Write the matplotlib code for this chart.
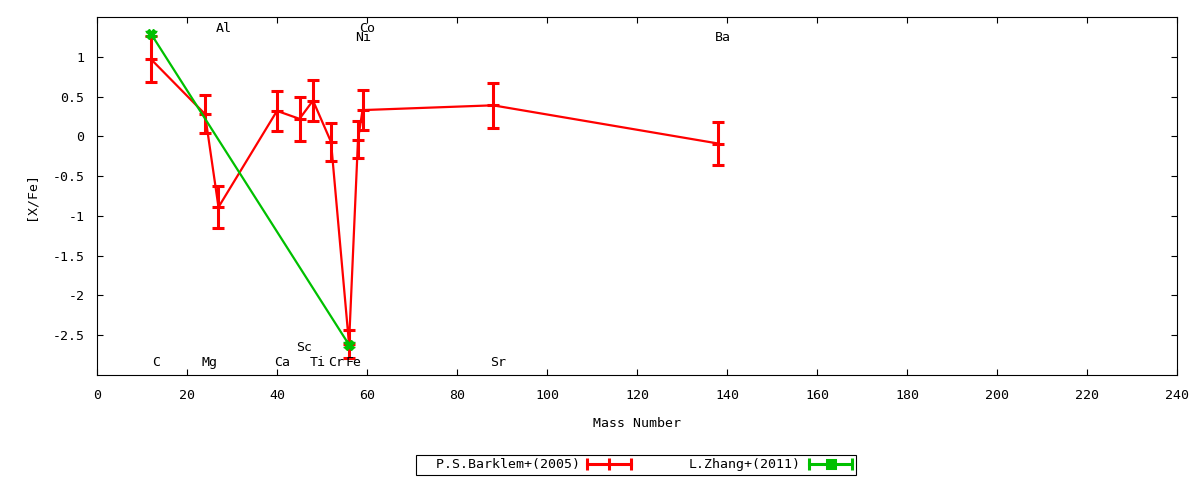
import matplotlib
matplotlib.use('Agg')
import matplotlib.pyplot as plt
from matplotlib.lines import Line2D
from matplotlib.legend_handler import HandlerBase

# Barklem+(2005): mass number, [X/Fe], error
bark_mass = [12, 24, 27, 40, 45, 48, 52, 56, 58, 59, 88, 138]
bark_val = [0.97, 0.28, -0.89, 0.32, 0.22, 0.45, -0.07, -2.61, -0.04, 0.33, 0.39, -0.09]
bark_err = [0.29, 0.24, 0.26, 0.25, 0.28, 0.26, 0.24, 0.18, 0.23, 0.25, 0.28, 0.27]

# Zhang+(2011)
zhang_mass = [12, 56]
zhang_val = [1.29, -2.62]
zhang_err = [0.03, 0.03]

# element labels (name, mass, label height)
elem_names = ['C', 'Mg', 'Al', 'Ca', 'Sc', 'Ti', 'Cr', 'Fe', 'Ni', 'Co', 'Sr', 'Ba']
elem_mass = [12, 24, 27, 40, 45, 48, 52, 56, 58, 59, 88, 138]
elem_y = [-2.84, -2.84, 1.35, -2.84, -2.66, -2.84, -2.84, -2.84, 1.24, 1.35, -2.84, 1.24]

RED = '#ff0000'
GREEN = '#00c000'

plt.rcParams['font.family'] = 'DejaVu Sans Mono'
plt.rcParams['font.size'] = 9.5


# gnuplot-like legend sample: line with caps at both ends and a point in the middle
class ErrHandler(HandlerBase):
    def __init__(self, color, marker, ms):
        super().__init__()
        self.color = color
        self.marker = marker
        self.ms = ms

    def create_artists(self, legend, orig_handle, xdescent, ydescent, width, height,
                       fontsize, trans):
        y = height / 2 - ydescent
        x0, x1 = -xdescent, width - xdescent
        line = Line2D([x0, x1], [y, y], color=self.color, lw=2.2)
        caps = Line2D([x0, x1], [y, y], ls='none', marker='|', ms=9, mew=2.2, color=self.color)
        mid = Line2D([(x0 + x1) / 2], [y], ls='none', marker=self.marker, ms=self.ms,
                     mew=2.2, color=self.color)
        for a in (line, caps, mid):
            a.set_transform(trans)
        return [line, caps, mid]


fig = plt.figure(figsize=(12, 4.8), dpi=100)
ax = fig.add_axes([0.0808, 0.21875, 0.9002, 0.7458])

ax.errorbar(bark_mass, bark_val, yerr=bark_err, color=RED, lw=1.6,
            elinewidth=2.2, capsize=4.3, capthick=2.2, marker='_', ms=9, mew=2.2)
ax.errorbar(zhang_mass, zhang_val, yerr=zhang_err, color=GREEN, lw=1.6,
            elinewidth=2.2, capsize=4.3, capthick=2.2, marker='X', ms=7, mew=1)

for name, m, yy in zip(elem_names, elem_mass, elem_y):
    ax.text(m + 1.1, yy, name, ha='center', va='center')

ax.set_xlim(0, 240)
ax.set_ylim(-3, 1.5)
ax.set_xticks(range(0, 241, 20))
ax.set_yticks([-2.5, -2, -1.5, -1, -0.5, 0, 0.5, 1])
ax.set_yticklabels(['-2.5', '-2', '-1.5', '-1', '-0.5', '0', '0.5', '1'])
ax.tick_params(direction='in', top=True, right=True, length=4, width=0.8)
ax.tick_params(axis='x', pad=10)
ax.tick_params(axis='y', pad=9)
ax.set_xlabel('Mass Number', labelpad=11)
ax.set_ylabel('[X/Fe]', labelpad=11)

h1 = Line2D([], [], color=RED)
h2 = Line2D([], [], color=GREEN)
leg = fig.legend([h1, h2], ['  P.S.Barklem+(2005)', 'L.Zhang+(2011)'],
                 handler_map={h1: ErrHandler(RED, '|', 9), h2: ErrHandler(GREEN, 's', 6)},
                 loc='center', bbox_to_anchor=(0.53, 0.0313), ncol=2, markerfirst=False,
                 fancybox=False, edgecolor='black', framealpha=1, handlelength=3.3,
                 columnspacing=4.4, borderpad=0.3, handletextpad=0.6)
leg.get_frame().set_linewidth(0.8)

fig.savefig('out.png', dpi=100)
